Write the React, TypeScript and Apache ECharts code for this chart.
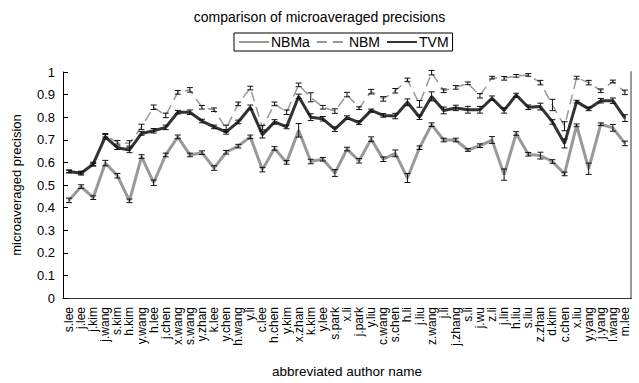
import React, { useEffect, useRef } from "react";
import * as echarts from "echarts";

const categories = ["s.lee","j.lee","j.kim","j.wang","s.kim","h.kim","y.wang","h.lee","j.chen","x.wang","s.wang","y.zhan","k.lee","y.chen","h.wang","y.li","c.lee","h.chen","y.kim","x.zhan","k.kim","y.lee","s.park","x.li","j.park","y.liu","c.wang","s.chen","h.li","j.liu","z.wang","j.li","j.zhang","s.li","j.wu","z.li","j.lin","h.liu","s.liu","z.zhan","d.kim","c.chen","x.liu","y.yang","j.yang","l.wang","m.lee"];

const nbma = [0.432,0.493,0.444,0.597,0.541,0.43,0.626,0.51,0.633,0.713,0.633,0.643,0.575,0.645,0.672,0.713,0.568,0.662,0.6,0.742,0.604,0.614,0.553,0.659,0.607,0.703,0.614,0.64,0.531,0.665,0.767,0.699,0.699,0.655,0.674,0.699,0.546,0.728,0.636,0.63,0.604,0.549,0.764,0.572,0.769,0.753,0.684];
const nbm = [0.56,0.555,0.59,0.72,0.689,0.684,0.757,0.844,0.808,0.91,0.921,0.844,0.833,0.75,0.859,0.929,0.754,0.859,0.822,0.943,0.888,0.844,0.827,0.9,0.84,0.913,0.881,0.917,0.965,0.859,0.997,0.917,0.932,0.95,0.895,0.975,0.972,0.983,0.987,0.953,0.854,0.76,0.975,0.953,0.917,0.958,0.91];
const tvm = [0.56,0.552,0.593,0.713,0.665,0.655,0.728,0.74,0.755,0.822,0.822,0.783,0.757,0.735,0.779,0.844,0.723,0.779,0.757,0.892,0.8,0.793,0.747,0.798,0.776,0.83,0.808,0.805,0.866,0.8,0.892,0.83,0.841,0.833,0.833,0.884,0.83,0.898,0.844,0.847,0.779,0.684,0.869,0.837,0.873,0.873,0.796];

const nbmaErr = [0.01,0.008,0.008,0.012,0.01,0.008,0.008,0.012,0.008,0.008,0.008,0.008,0.01,0.008,0.008,0.008,0.01,0.008,0.008,0.03,0.01,0.008,0.015,0.008,0.01,0.01,0.01,0.015,0.02,0.008,0.008,0.008,0.008,0.006,0.008,0.015,0.025,0.008,0.008,0.015,0.008,0.008,0.006,0.025,0.006,0.015,0.01];
const nbmErr = [0.006,0.006,0.006,0.008,0.008,0.012,0.012,0.01,0.01,0.008,0.01,0.008,0.008,0.015,0.008,0.008,0.01,0.008,0.01,0.008,0.02,0.008,0.01,0.01,0.006,0.01,0.01,0.01,0.008,0.015,0.01,0.008,0.008,0.006,0.01,0.006,0.008,0.006,0.006,0.01,0.025,0.02,0.006,0.01,0.008,0.006,0.01];
const tvmErr = [0.006,0.008,0.008,0.01,0.008,0.012,0.008,0.01,0.01,0.008,0.01,0.008,0.008,0.01,0.008,0.01,0.015,0.01,0.008,0.01,0.015,0.01,0.01,0.008,0.008,0.006,0.008,0.012,0.015,0.01,0.02,0.015,0.012,0.015,0.015,0.01,0.012,0.008,0.01,0.015,0.01,0.02,0.006,0.008,0.01,0.012,0.015];

const yTicks = [0, 0.1, 0.2, 0.3, 0.4, 0.5, 0.6, 0.7, 0.8, 0.9, 1];

const FONT = "Liberation Sans, Arial, sans-serif";

function errData(vals: number[], errs: number[]) {
  return vals.map((v, i) => [i, v - errs[i], v + errs[i]]);
}

function renderErr(params: any, api: any) {
  const i = api.value(0);
  const lo = api.coord([i, api.value(1)]);
  const hi = api.coord([i, api.value(2)]);
  const cap = 3;
  const style = { stroke: "#111", lineWidth: 1 };
  return {
    type: "group",
    children: [
      { type: "line", shape: { x1: lo[0], y1: lo[1], x2: hi[0], y2: hi[1] }, style },
      { type: "line", shape: { x1: lo[0] - cap, y1: lo[1], x2: lo[0] + cap, y2: lo[1] }, style },
      { type: "line", shape: { x1: hi[0] - cap, y1: hi[1], x2: hi[0] + cap, y2: hi[1] }, style },
    ],
  };
}

export default function App() {
  const ref = useRef<HTMLDivElement>(null);
  useEffect(() => {
    if (!ref.current) return;
    const chart = echarts.init(ref.current, undefined, { renderer: "svg" });
    chart.setOption({
      animation: false,
      backgroundColor: "#fff",
      textStyle: { fontFamily: FONT },
      title: {
        text: "comparison of microaveraged precisions",
        left: "center",
        top: 5,
        textStyle: { fontSize: 14, fontWeight: "normal", color: "#000", fontFamily: FONT },
      },
      legend: {
        top: 33,
        left: 234,
        data: ["NBMa", "NBM", "TVM"],
        itemWidth: 30,
        itemHeight: 12,
        itemGap: 6,
        borderColor: "#000",
        borderWidth: 1,
        padding: [2, 4],
        itemStyle: { opacity: 0 },
        textStyle: { fontSize: 14, color: "#000", fontFamily: FONT, padding: [0, 0, 0, -3] },
      },
      grid: { left: 63, right: 8, top: 72, bottom: 83 },
      xAxis: [
        {
          type: "category",
          data: categories,
          boundaryGap: true,
          name: "abbreviated author name",
          nameLocation: "middle",
          nameGap: 66,
          nameTextStyle: { fontSize: 13.5, color: "#000", fontFamily: FONT },
          axisLine: { lineStyle: { color: "#000", width: 1 } },
          axisTick: { inside: true, length: 5, interval: 0, lineStyle: { color: "#000" } },
          axisLabel: { rotate: 90, interval: 0, fontSize: 12, color: "#000", margin: 9, fontFamily: FONT },
          splitLine: { show: false },
        },
        {
          type: "category",
          data: categories,
          position: "top",
          axisLine: { lineStyle: { color: "#333", width: 1 } },
          axisTick: { show: false },
          axisLabel: { show: false },
        },
      ],
      yAxis: [
        {
          type: "value",
          min: 0,
          max: 1,
          interval: 0.1,
          name: "microaveraged precision",
          nameLocation: "middle",
          nameGap: 40,
          nameTextStyle: { fontSize: 13, color: "#000", fontFamily: FONT },
          axisLine: { show: true, lineStyle: { color: "#000", width: 1 } },
          axisTick: { show: true, inside: true, length: 5, lineStyle: { color: "#000" } },
          axisLabel: {
            fontSize: 13,
            color: "#000",
            margin: 8,
            fontFamily: FONT,
            formatter: (v: number) => {
              const t = yTicks.find((x) => Math.abs(x - v) < 1e-6);
              return t === undefined ? "" : String(t);
            },
          },
          splitLine: { show: false },
        },
        {
          type: "value",
          min: 0,
          max: 1,
          interval: 0.1,
          position: "right",
          axisLine: { show: true, lineStyle: { color: "#999", width: 2 } },
          axisTick: { show: false },
          axisLabel: { show: false },
          splitLine: { show: false },
        },
      ],
      series: [
        {
          name: "NBMa",
          type: "line",
          data: nbma,
          symbol: "none",
          lineStyle: { color: "#999", width: 3 },
          itemStyle: { color: "#999" },
          z: 2,
        },
        {
          name: "NBM",
          type: "line",
          data: nbm,
          symbol: "none",
          lineStyle: { color: "#999", width: 1.5, type: [10, 6] },
          itemStyle: { color: "#999" },
          z: 2,
        },
        {
          name: "TVM",
          type: "line",
          data: tvm,
          symbol: "none",
          lineStyle: { color: "#333", width: 3 },
          itemStyle: { color: "#333" },
          z: 3,
        },
        { type: "custom", data: errData(nbma, nbmaErr), renderItem: renderErr, z: 4, encode: { x: 0, y: [1, 2] } },
        { type: "custom", data: errData(nbm, nbmErr), renderItem: renderErr, z: 4, encode: { x: 0, y: [1, 2] } },
        { type: "custom", data: errData(tvm, tvmErr), renderItem: renderErr, z: 4, encode: { x: 0, y: [1, 2] } },
      ],
    });
    return () => chart.dispose();
  }, []);
  return <div ref={ref} style={{ width: 639, height: 383, position: "absolute", left: 0, top: 0 }} />;
}
